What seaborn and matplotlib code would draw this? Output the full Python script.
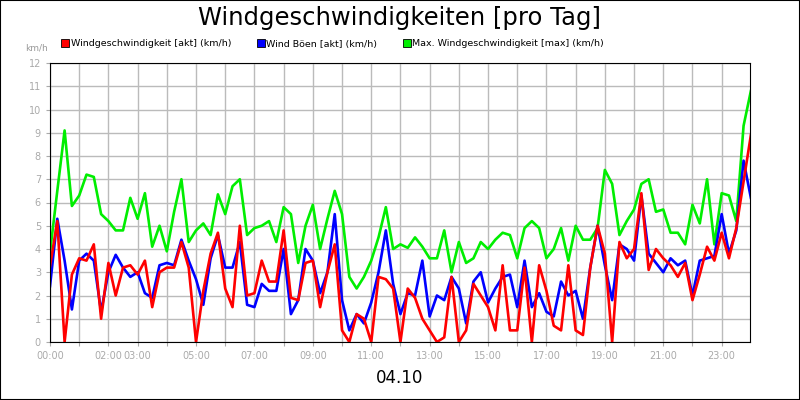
import numpy as np
import pandas as pd
import matplotlib
matplotlib.use("Agg")
import matplotlib.pyplot as plt
import seaborn as sns
from matplotlib.lines import Line2D

# --- Daten (Viertelstundenwerte) ---
hours = [i * 0.25 for i in range(97)]

wind_akt = [3.25, 5.2, 0, 2.9, 3.6, 3.5, 4.2, 1.0, 3.4, 2.0, 3.2, 3.3, 2.9, 3.5, 1.5, 3.0, 3.2, 3.2, 4.3, 3.2, 0.0, 2.2, 3.8, 4.7, 2.3,
            1.5, 5.0, 2.0, 2.1, 3.5, 2.6, 2.6, 4.8, 1.9, 1.8, 3.4, 3.5, 1.5, 3.0, 4.2, 0.5, 0.0, 1.2, 1.0, 0.0, 2.8, 2.7, 2.3, 0.0,
            2.3, 1.9, 1.0, 0.5, 0.0, 0.2, 2.8, 0.0, 0.5, 2.5, 2.0, 1.5, 0.5, 3.3, 0.5, 0.5, 3.2, 0.0, 3.3, 2.2, 0.7, 0.5, 3.3, 0.5,
            0.3, 3.2, 5.0, 3.8, 0.0, 4.3, 3.6, 4.0, 6.4, 3.1, 4.0, 3.6, 3.3, 2.8, 3.4, 1.8, 2.9, 4.1, 3.5, 4.7, 3.6, 4.9, 6.9, 8.9]

boeen_akt = [2.4, 5.3, 3.5, 1.4, 3.5, 3.8, 3.5, 1.3, 3.0, 3.75, 3.2, 2.8, 3.0, 2.1, 1.9, 3.3, 3.4, 3.3, 4.4, 3.5, 2.7, 1.6, 3.6, 4.6, 3.2,
             3.2, 4.3, 1.6, 1.5, 2.5, 2.2, 2.2, 4.0, 1.2, 1.8, 4.0, 3.5, 2.1, 3.0, 5.5, 1.8, 0.5, 1.2, 0.8, 1.7, 3.0, 4.8, 2.5, 1.2,
             2.1, 2.0, 3.5, 1.1, 2.0, 1.8, 2.8, 2.3, 0.8, 2.6, 3.0, 1.7, 2.3, 2.8, 2.9, 1.5, 3.5, 1.5, 2.1, 1.3, 1.1, 2.6, 2.0, 2.2,
             1.0, 3.2, 5.0, 3.3, 1.8, 4.2, 4.0, 3.5, 6.3, 3.8, 3.4, 3.0, 3.6, 3.3, 3.5, 2.0, 3.5, 3.6, 3.7, 5.5, 3.8, 4.8, 7.8, 6.2]

wind_max = [3.85, 6.5, 9.1, 5.85, 6.3, 7.2, 7.1, 5.5, 5.2, 4.8, 4.8, 6.2, 5.3, 6.4, 4.1, 5.0, 3.9, 5.6, 7.0, 4.3, 4.8, 5.1, 4.6, 6.35, 5.5,
            6.7, 7.0, 4.6, 4.9, 5.0, 5.2, 4.3, 5.8, 5.5, 3.4, 5.0, 5.9, 4.0, 5.3, 6.5, 5.5, 2.8, 2.3, 2.8, 3.5, 4.5, 5.8, 4.0, 4.2,
            4.05, 4.5, 4.1, 3.6, 3.6, 4.8, 3.0, 4.3, 3.4, 3.6, 4.3, 4.0, 4.4, 4.7, 4.6, 3.6, 4.9, 5.2, 4.9, 3.6, 4.0, 4.9, 3.5, 5.0,
            4.4, 4.4, 4.9, 7.4, 6.8, 4.6, 5.2, 5.7, 6.8, 7.0, 5.6, 5.7, 4.7, 4.7, 4.2, 5.9, 5.1, 7.0, 4.2, 6.4, 6.3, 5.2, 9.3, 10.8]

tick_hours = list(range(24))
tick_labels = ["00:00", "", "02:00", "03:00", "", "05:00", "", "07:00", "", "09:00", "", "11:00",
               "", "13:00", "", "15:00", "", "17:00", "", "19:00", "", "21:00", "", "23:00"]

series = [
    ("Windgeschwindigkeit [akt] (km/h)", wind_akt, "#ff0000"),
    ("Wind Böen [akt] (km/h)", boeen_akt, "#0000ff"),
    ("Max. Windgeschwindigkeit [max] (km/h)", wind_max, "#00ee00"),
]

fig = plt.figure(figsize=(8, 4), dpi=100)
ax = fig.add_axes([0.0625, 0.145, 0.875, 0.6975])

# Zeichenreihenfolge: Max hinten, dann Böen, dann aktuell
for name, vals, col in [series[2], series[1], series[0]]:
    df = pd.DataFrame({"h": hours, "v": vals})
    sns.lineplot(data=df, x="h", y="v", color=col, linewidth=1.9, ax=ax)

ax.set_xlim(0, 23.97)
ax.set_ylim(0, 12)
ax.set_yticks(range(13))
ax.set_xticks(tick_hours)
ax.set_xticklabels(tick_labels)
ax.tick_params(colors="#aaaaaa", labelsize=7, length=3)
ax.grid(True, color="#bbbbbb", linewidth=1)
ax.set_axisbelow(True)
ax.set_xlabel("")
ax.set_ylabel("")
for s in ax.spines.values():
    s.set_color("black")

fig.text(0.5, 0.955, "Windgeschwindigkeiten [pro Tag]", ha="center", va="center", fontsize=17.5)
fig.text(0.5, 0.055, "04.10", ha="center", va="center", fontsize=12)
fig.text(0.046, 0.88, "km/h", ha="center", va="center", fontsize=6.5, color="#999999")

handles = [Line2D([], [], marker="s", linestyle="none", markersize=6, markerfacecolor=c,
                  markeredgecolor="black", markeredgewidth=0.6) for _, _, c in series]
fig.legend(handles, [n for n, _, _ in series], loc="center left", bbox_to_anchor=(0.065, 0.89),
           ncol=3, frameon=False, fontsize=6.8, handletextpad=0.1, columnspacing=2.6, handlelength=1)

fig.patches.append(plt.Rectangle((0, 0), 1, 1, transform=fig.transFigure, fill=False,
                                 edgecolor="black", linewidth=1.5))
fig.savefig("out.png", dpi=100)
